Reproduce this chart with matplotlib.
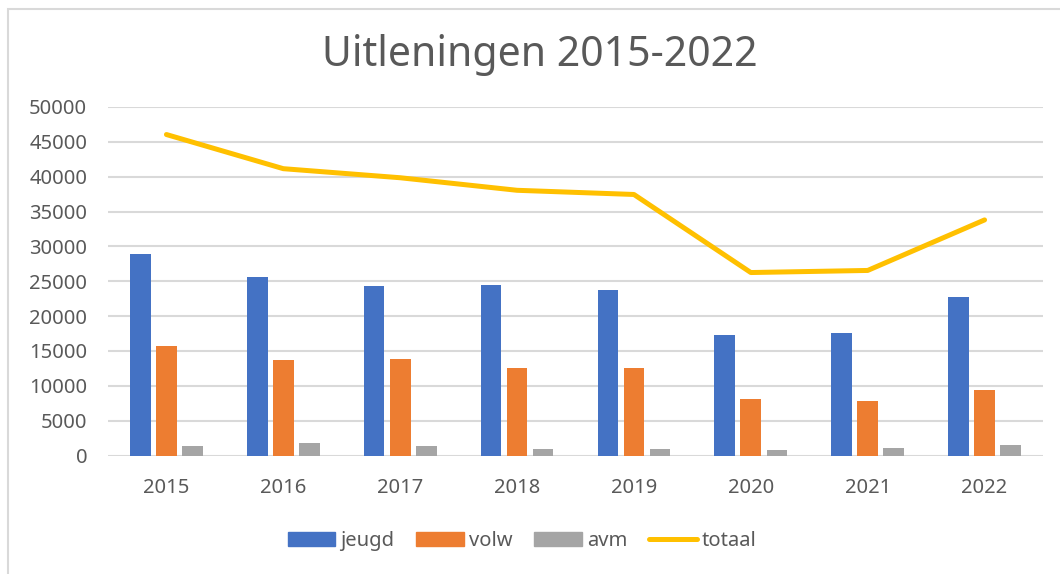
import matplotlib
matplotlib.use("Agg")
import matplotlib.pyplot as plt
import numpy as np
from matplotlib.patches import Rectangle, Patch
from matplotlib.lines import Line2D

plt.rcParams['font.family'] = ['Noto Sans', 'DejaVu Sans']

years = ["2015", "2016", "2017", "2018", "2019", "2020", "2021", "2022"]
jeugd = [28900, 25600, 24300, 24400, 23800, 17250, 17550, 22700]
volw = [15700, 13700, 13900, 12550, 12600, 8100, 7800, 9450]
avm = [1350, 1750, 1400, 1000, 900, 750, 1050, 1500]
totaal = [46050, 41150, 39850, 38050, 37450, 26250, 26550, 33800]

TEXT = "#595959"
W, H = 1060, 574
fig = plt.figure(figsize=(W / 100, H / 100), dpi=100)

# chart border (left + top visible)
fig.patches.append(Rectangle((8 / W, -0.1), 1.2, (H - 9) / H + 0.1, transform=fig.transFigure,
                             fill=False, edgecolor="#D9D9D9", linewidth=1.5))

ax = fig.add_axes([108 / W, 1 - 455.5 / H, (1043 - 108) / W, (455.5 - 107) / H])
x = np.arange(len(years))
bw = 0.177
step = 0.223
ax.bar(x - step, jeugd, bw, color="#4472C4", zorder=3, label="jeugd")
ax.bar(x, volw, bw, color="#ED7D31", zorder=3, label="volw")
ax.bar(x + step, avm, bw, color="#A5A5A5", zorder=3, label="avm")
ax.plot(x, totaal, color="#FFC000", linewidth=3.6, solid_capstyle="round", zorder=4, label="totaal")

ax.set_xlim(-0.5, len(years) - 0.5)
ax.set_ylim(0, 50000)
ax.set_yticks(range(0, 50001, 5000))
ax.set_xticks(x)
ax.set_xticklabels(years)
ax.grid(axis="y", color="#D9D9D9", linewidth=1.5, zorder=0)
for s in ax.spines.values():
    s.set_visible(False)
ax.tick_params(length=0, labelsize=14.5, labelcolor=TEXT)
ax.tick_params(axis="y", pad=15)
ax.tick_params(axis="x", pad=16.5)

fig.text(540 / W, 1 - 55 / H, "Uitleningen 2015-2022", ha="center", va="center",
         fontsize=29.5, color=TEXT)

handles = [Patch(color="#4472C4"), Patch(color="#ED7D31"), Patch(color="#A5A5A5"),
           Line2D([], [], color="#FFC000", linewidth=3.6, solid_capstyle="round")]
fig.legend(handles, ["jeugd", "volw", "avm", "totaal"], loc="center", ncol=4,
           bbox_to_anchor=(522 / W, 1 - 541 / H), frameon=False, fontsize=14.5,
           labelcolor=TEXT, handlelength=2.35, handleheight=0.67, handletextpad=0.25,
           columnspacing=1.1)

fig.savefig("out.png", dpi=100)
